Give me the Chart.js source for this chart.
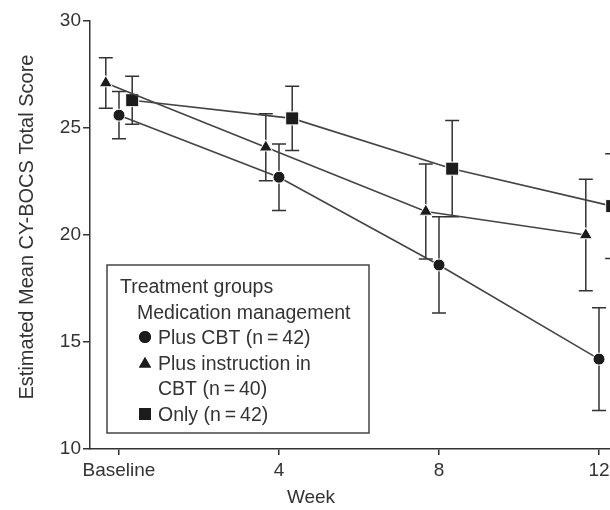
<!DOCTYPE html>
<html>
<head>
<meta charset="utf-8">
<script src="https://cdn.jsdelivr.net/npm/chart.js@4.4.1/dist/chart.umd.min.js"></script>
<style>
  html, body { margin: 0; padding: 0; background: #fff; overflow: hidden; }
  canvas { display: block; }
</style>
</head>
<body>
<canvas id="cybocsChart" width="660" height="510"></canvas>
<script>
(() => {
    const el = document.getElementById('cybocsChart');
    if (!el || !window.Chart) return;

    // data
    const weeks = [0, 4, 8, 12];
    const weekLabels = ['Baseline', '4', '8', '12'];
    const yTicks = [10, 15, 20, 25, 30];

    const cbtMean = [25.6, 22.7, 18.6, 14.2];
    const cbtErr = [1.1, 1.55, 2.25, 2.4];

    const instrMean = [27.1, 24.1, 21.1, 20.0];
    const instrErr = [1.18, 1.57, 2.22, 2.6];

    const onlyMean = [26.3, 25.45, 23.1, 21.35];
    const onlyErr = [1.12, 1.5, 2.25, 2.45];

    const FONT = "'Liberation Sans', Arial, Helvetica, sans-serif";
    const INK = '#333';
    const MARK = '#1c1c1c';
    const X_MIN = -0.725, X_MAX = 13.525;

    // small horizontal dodge so the groups don't overlap
    const build = (label, mean, err, dodge, style, radius) => ({
        label,
        data: weeks.map((w, i) => ({ x: w + dodge, y: mean[i] })),
        err,
        borderColor: '#444',
        borderWidth: 1.6,
        pointStyle: style,
        pointRadius: radius,
        pointBackgroundColor: MARK,
        pointBorderColor: '#fff',
        pointBorderWidth: 1,
        tension: 0,
        clip: false
    });

    const datasets = [
        build('Plus CBT (n = 42)', cbtMean, cbtErr, 0, 'circle', 6),
        build('Plus instruction in CBT (n = 40)', instrMean, instrErr, -0.33, 'triangle', 7.5),
        build('Only (n = 42)', onlyMean, onlyErr, 0.33, 'rect', 9.2)
    ];

    // whiskers with caps, under the markers
    const errorBars = {
        id: 'errorBars',
        beforeDatasetsDraw(chart) {
            const { ctx, scales: { y } } = chart;
            ctx.save();
            ctx.strokeStyle = INK;
            ctx.lineWidth = 1.5;
            chart.data.datasets.forEach((ds, di) => {
                chart.getDatasetMeta(di).data.forEach((pt, i) => {
                    const m = ds.data[i].y, e = ds.err[i];
                    const top = y.getPixelForValue(m + e);
                    const bot = y.getPixelForValue(m - e);
                    ctx.beginPath();
                    ctx.moveTo(pt.x, top); ctx.lineTo(pt.x, bot);
                    ctx.moveTo(pt.x - 7, top); ctx.lineTo(pt.x + 7, top);
                    ctx.moveTo(pt.x - 7, bot); ctx.lineTo(pt.x + 7, bot);
                    ctx.stroke();
                });
            });
            ctx.restore();
        }
    };

    // axis titles + boxed legend
    const annotations = {
        id: 'annotations',
        afterDraw(chart) {
            const { ctx } = chart;
            ctx.save();
            ctx.fillStyle = INK;
            ctx.textBaseline = 'alphabetic';

            ctx.font = `19px ${FONT}`;
            ctx.textAlign = 'center';
            ctx.fillText('Week', 311, 503);

            ctx.save();
            ctx.translate(33, 227);
            ctx.rotate(-Math.PI / 2);
            ctx.font = `20px ${FONT}`;
            ctx.fillText('Estimated Mean CY-BOCS Total Score', 0, 0);
            ctx.restore();

            // legend box
            ctx.fillStyle = '#fff';
            ctx.fillRect(107, 265, 262, 168);
            ctx.strokeStyle = '#444';
            ctx.lineWidth = 1.5;
            ctx.strokeRect(107, 265, 262, 168);

            ctx.fillStyle = INK;
            ctx.textAlign = 'left';
            ctx.font = `19.5px ${FONT}`;
            ctx.fillText('Treatment groups', 120, 293);
            ctx.fillText('Medication management', 137, 319);
            ctx.fillText('Plus CBT (n\u2009=\u200942)', 158, 344);
            ctx.fillText('Plus instruction in', 158, 370);
            ctx.fillText('CBT (n\u2009=\u200940)', 158, 395);
            ctx.fillText('Only (n\u2009=\u200942)', 158, 421);

            ctx.fillStyle = MARK;
            Chart.helpers.drawPoint(ctx, { pointStyle: 'circle', radius: 6, borderWidth: 0 }, 145, 337);
            ctx.fill();
            Chart.helpers.drawPoint(ctx, { pointStyle: 'triangle', radius: 7, borderWidth: 0 }, 145, 364);
            ctx.fill();
            Chart.helpers.drawPoint(ctx, { pointStyle: 'rect', radius: 8.5, borderWidth: 0 }, 145, 414);
            ctx.fill();
            ctx.restore();
        }
    };

    new Chart(el.getContext('2d'), {
        type: 'line',
        data: { datasets },
        plugins: [errorBars, annotations],
        options: {
            responsive: false,
            animation: false,
            layout: { autoPadding: false, padding: { top: 21, left: 0, right: 0, bottom: 0 } },
            plugins: {
                legend: { display: false },
                tooltip: { enabled: false }
            },
            scales: {
                x: {
                    type: 'linear',
                    min: X_MIN,
                    max: X_MAX,
                    afterFit: (s) => { s.height = 61; s.paddingLeft = 0; s.paddingRight = 0; },
                    afterBuildTicks: (s) => { s.ticks = weeks.map(v => ({ value: v })); },
                    border: { display: true, color: INK, width: 1.5 },
                    grid: { drawOnChartArea: false, drawTicks: true, tickLength: 6, color: INK, lineWidth: 1.5 },
                    ticks: {
                        color: INK,
                        padding: 4,
                        maxRotation: 0,
                        autoSkip: false,
                        font: { family: FONT, size: 19 },
                        callback: (v) => weekLabels[weeks.indexOf(v)] ?? ''
                    }
                },
                y: {
                    min: 10,
                    max: 30,
                    afterFit: (s) => { s.width = 90; s.paddingTop = 0; s.paddingBottom = 0; },
                    afterBuildTicks: (s) => { s.ticks = yTicks.map(v => ({ value: v })); },
                    border: { display: true, color: INK, width: 1.5 },
                    grid: { drawOnChartArea: false, drawTicks: true, tickLength: 7, color: INK, lineWidth: 1.5 },
                    ticks: {
                        color: INK,
                        padding: 2,
                        font: { family: FONT, size: 19 }
                    }
                }
            }
        }
    });
})();
</script>
</body>
</html>
